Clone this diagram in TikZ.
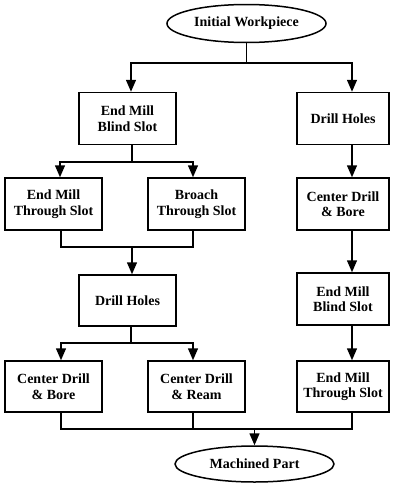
\documentclass[tikz,border=0pt]{standalone}
\usepackage{fontspec}
\setmainfont{Liberation Serif}
\usetikzlibrary{arrows.meta,shapes.geometric}
\begin{document}
\begin{tikzpicture}[x=1pt,y=-1pt,
  line width=1.5pt,
  every node/.style={font=\fontsize{14}{15.5}\selectfont\bfseries, align=center},
  procbox/.style={draw, rectangle, minimum width=97pt, minimum height=52pt, inner sep=1pt},
  rbox/.style={procbox, minimum width=92pt},
  oval/.style={draw, ellipse, minimum width=159pt, minimum height=38pt, inner sep=0pt},
  arr/.style={-{Triangle[length=12pt,width=10pt]}}]
\useasboundingbox (0,0) rectangle (393,490);
\node[oval] (iw) at (246.5,23.5) {Initial Workpiece};
\node[procbox] (b1) at (127.5,118.5) {End Mill\\Blind Slot};
\node[rbox] (r1) at (343,118.5) {Drill Holes};
\node[procbox] (b2) at (53.5,204) {End Mill\\Through Slot};
\node[procbox] (b3) at (196.5,204) {Broach\\Through Slot};
\node[rbox] (r2) at (343,204) {Center Drill\\\& Bore};
\node[procbox, minimum height=51pt] (b4) at (127.5,300.5) {Drill Holes};
\node[rbox] (r3) at (343,299) {End Mill\\Blind Slot};
\node[procbox, minimum height=51pt] (b5) at (53.5,386.5) {Center Drill\\\& Bore};
\node[procbox, minimum height=51pt] (b6) at (196.5,386.5) {Center Drill\\\& Ream};
\node[rbox, minimum height=51pt] (r4) at (343,386.5) {End Mill\\Through Slot};
\node[oval, minimum height=36pt] (mp) at (254.5,464) {Machined Part};
% junctions
\coordinate (j1) at (246.5,63);
\coordinate (j2) at (132,162);
\coordinate (j3) at (132,247);
\coordinate (j4) at (131,343);
\coordinate (j5) at (254.5,429);
% top split
\draw (iw.south) -- (j1);
\draw[arr] (j1) -| ([xshift=3.5pt]b1.north);
\draw[arr] (j1) -| ([xshift=9pt]r1.north);
% left branch
\draw ([xshift=4.5pt]b1.south) -- (j2);
\draw[arr] (j2) -| ([xshift=6.5pt]b2.north);
\draw[arr] (j2) -| ([xshift=-3.5pt]b3.north);
\draw ([xshift=7.5pt]b2.south) |- (j3);
\draw ([xshift=-3.5pt]b3.south) |- (j3);
\draw[arr] (j3) -- ([xshift=4.5pt]b4.north);
\draw ([xshift=3.5pt]b4.south) -- (j4);
\draw[arr] (j4) -| ([xshift=7.5pt]b5.north);
\draw[arr] (j4) -| ([xshift=-3.5pt]b6.north);
% right branch
\draw[arr] ([xshift=9pt]r1.south) -- ([xshift=9pt]r2.north);
\draw[arr] ([xshift=9pt]r2.south) -- ([xshift=9pt]r3.north);
\draw[arr] ([xshift=9pt]r3.south) -- ([xshift=9pt]r4.north);
% bottom merge
\draw ([xshift=7.5pt]b5.south) -- ([xshift=7.5pt]b5.south |- j5) -- ([xshift=9pt]r4.south |- j5) -- ([xshift=9pt]r4.south);
\draw ([xshift=-3.5pt]b6.south) -- ([xshift=-3.5pt]b6.south |- j5);
\draw[arr] (j5) -- (mp.north);
\end{tikzpicture}
\end{document}
